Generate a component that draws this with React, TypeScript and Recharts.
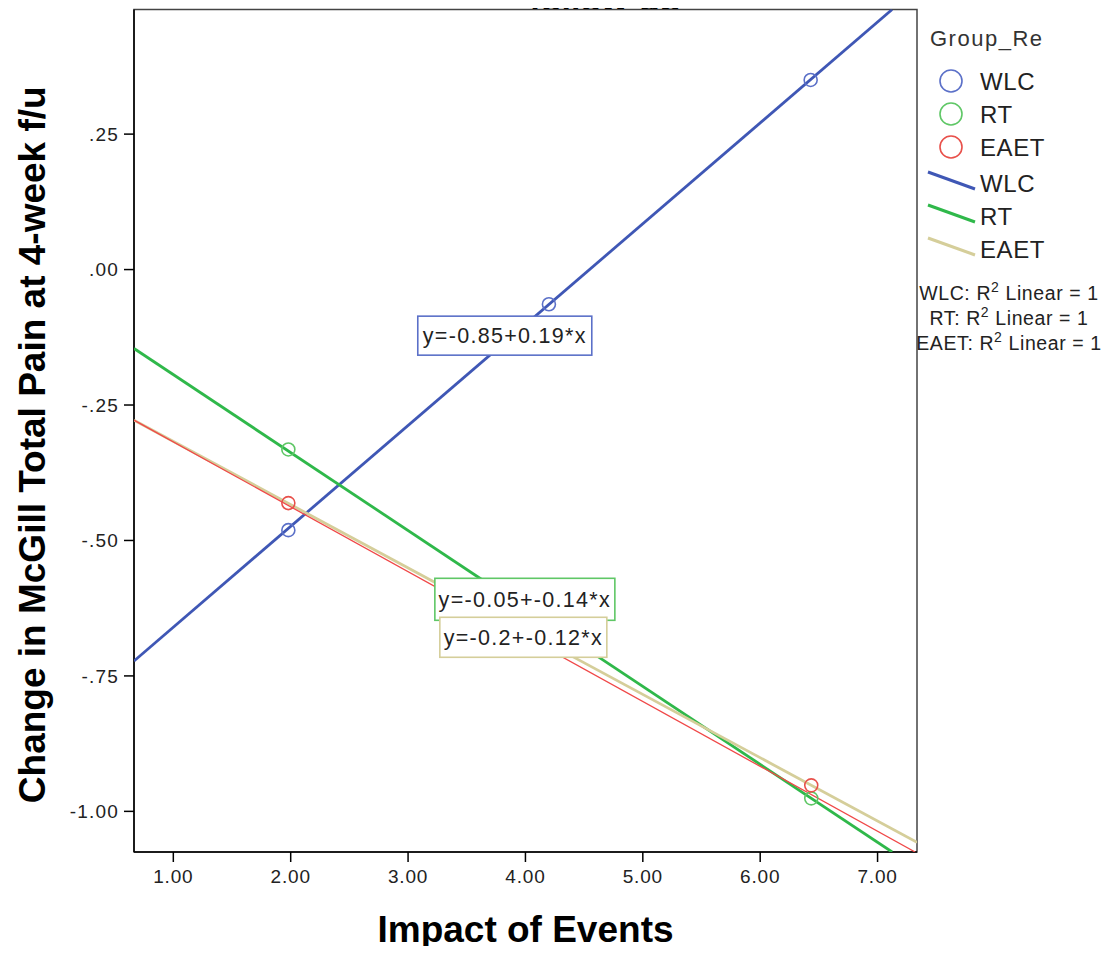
import {
  ScatterChart,
  Scatter,
  XAxis,
  YAxis,
  ReferenceArea,
  ReferenceDot,
} from 'recharts'

const FONT = '"Liberation Sans", Arial, sans-serif'

// observed points per group
const wlcPoints = [
  { x: 1.98, y: -0.481 },
  { x: 4.2, y: -0.064 },
  { x: 6.43, y: 0.35 },
]
const rtPoints = [
  { x: 1.98, y: -0.332 },
  { x: 6.435, y: -0.976 },
]
const eaetPoints = [
  { x: 1.98, y: -0.431 },
  { x: 6.435, y: -0.952 },
]

// fit lines, end points read where they leave the plot frame
const wlcFit = [
  { x: 0.665, y: -0.7225 },
  { x: 7.124, y: 0.48 },
]
const rtFit = [
  { x: 0.665, y: -0.1457 },
  { x: 7.124, y: -1.075 },
]
const eaetFit = [
  { x: 0.665, y: -0.278 },
  { x: 7.336, y: -1.057 },
]
const eaetThin = [
  { x: 0.665, y: -0.278 },
  { x: 7.32, y: -1.075 },
]

const xTicks = [1, 2, 3, 4, 5, 6, 7]
const yTicks = [-1, -0.75, -0.5, -0.25, 0, 0.25]
const xDomain = [0.665, 7.336]
const yDomain = [-1.075, 0.48]

const groups = ['WLC', 'RT', 'EAET']
const equations = ['y=-0.85+0.19*x', 'y=-0.05+-0.14*x', 'y=-0.2+-0.12*x']

const C = {
  blueLine: '#3f57b5',
  blueMark: '#5b70c8',
  greenLine: '#2fb84a',
  greenMark: '#5fc766',
  redMark: '#e8504a',
  beige: '#d5ce9a',
  redLine: '#f04848',
}

const fmtY = (v: number) => {
  if (Math.abs(v) < 1) return (v < 0 ? '-' : '') + Math.abs(v).toFixed(2).slice(1)
  return v.toFixed(2)
}

const ring = (color: string) => (p: any) => (
  <circle cx={p.cx} cy={p.cy} r={6.5} fill="none" stroke={color} strokeWidth={1.6} />
)
const noDot = () => <g />

const eqBox = (text: string, color: string, w: number, h: number) => (p: any) => (
  <g>
    <rect x={p.cx - w / 2} y={p.cy - h / 2} width={w} height={h} fill="#fff" stroke={color} strokeWidth={1.6} />
    <text
      x={p.cx}
      y={p.cy + 7.5}
      textAnchor="middle"
      fontFamily={FONT}
      fontSize={21.5}
      letterSpacing={1.3}
      fill="#222"
    >
      {text}
    </text>
  </g>
)

function LegendBox() {
  const circleColors = [C.blueMark, C.greenMark, C.redMark]
  const lineColors = [C.blueLine, C.greenLine, C.beige]
  const circleY = [81, 114, 147]
  const lineY = [183, 216, 249]
  return (
    <svg
      width={1109}
      height={954}
      style={{ position: 'absolute', left: 0, top: 0, pointerEvents: 'none' }}
    >
      <text x={930} y={46} fontFamily={FONT} fontSize={22} letterSpacing={1.5} fill="#333">
        Group_Re
      </text>
      {groups.map((g, i) => (
        <g key={'c' + g}>
          <circle cx={951} cy={circleY[i]} r={11} fill="none" stroke={circleColors[i]} strokeWidth={1.6} />
          <text x={980} y={circleY[i] + 9} fontFamily={FONT} fontSize={24} letterSpacing={0.6} fill="#222">
            {g}
          </text>
        </g>
      ))}
      {groups.map((g, i) => (
        <g key={'l' + g}>
          <line x1={928} y1={lineY[i] - 11} x2={975} y2={lineY[i] + 6} stroke={lineColors[i]} strokeWidth={3} />
          <text x={980} y={lineY[i] + 9} fontFamily={FONT} fontSize={24} letterSpacing={0.6} fill="#222">
            {g}
          </text>
        </g>
      ))}
      {groups.map((g, i) => (
        <text
          key={'r' + g}
          x={1009}
          y={300 + i * 25}
          textAnchor="middle"
          fontFamily={FONT}
          fontSize={19.5}
          letterSpacing={0.6}
          fill="#222"
        >
          {g}: R<tspan fontSize={14} dy={-8}>2</tspan>
          <tspan dy={8}> Linear = 1</tspan>
        </text>
      ))}
    </svg>
  )
}

export default function App() {
  return (
    <div style={{ position: 'relative', margin: -8, width: 1109, height: 954, overflow: 'hidden', background: '#fff' }}>
      <ScatterChart width={1109} height={954} margin={{ top: 9.5, right: 192, bottom: 0, left: 0 }}>
        <ReferenceArea
          x1={xDomain[0]}
          x2={xDomain[1]}
          y1={yDomain[0]}
          y2={yDomain[1]}
          fill="none"
          stroke="#444"
          strokeWidth={1.5}
          ifOverflow="visible"
        />
        <XAxis
          type="number"
          dataKey="x"
          domain={xDomain}
          allowDataOverflow
          ticks={xTicks}
          tickFormatter={(v: number) => v.toFixed(2)}
          height={102}
          tickSize={10}
          tickMargin={8}
          stroke="#000"
          strokeWidth={1.5}
          tick={{ fill: '#222', fontSize: 19, fontFamily: FONT, letterSpacing: 0.8 }}
          label={({ viewBox }: any) => (
            <text
              x={viewBox.x + viewBox.width / 2}
              y={viewBox.y + 90}
              textAnchor="middle"
              fontFamily={FONT}
              fontWeight="bold"
              fontSize={37}
              fill="#000"
            >
              Impact of Events
            </text>
          )}
        />
        <YAxis
          type="number"
          dataKey="y"
          domain={yDomain}
          allowDataOverflow
          ticks={yTicks}
          tickFormatter={fmtY}
          width={134}
          tickSize={10}
          tickMargin={5}
          stroke="#000"
          strokeWidth={1.5}
          tick={{ fill: '#222', fontSize: 19, fontFamily: FONT, letterSpacing: 1.2 }}
          label={({ viewBox }: any) => {
            const cx = 32
            const cy = viewBox.y + viewBox.height / 2 + 14
            return (
              <text
                x={cx}
                y={cy}
                transform={`rotate(-90 ${cx} ${cy})`}
                textAnchor="middle"
                dominantBaseline="central"
                fontFamily={FONT}
                fontWeight="bold"
                fontSize={37}
                fill="#000"
              >
                Change in McGill Total Pain at 4-week f/u
              </text>
            )
          }}
        />
        <Scatter data={wlcFit} line={{ stroke: C.blueLine, strokeWidth: 2.8 }} shape={noDot} isAnimationActive={false} />
        <Scatter data={rtFit} line={{ stroke: C.greenLine, strokeWidth: 2.8 }} shape={noDot} isAnimationActive={false} />
        <Scatter data={eaetFit} line={{ stroke: C.beige, strokeWidth: 2.8 }} shape={noDot} isAnimationActive={false} />
        <Scatter data={eaetThin} line={{ stroke: C.redLine, strokeWidth: 1.3 }} shape={noDot} isAnimationActive={false} />
        <Scatter data={wlcPoints} shape={ring(C.blueMark)} isAnimationActive={false} />
        <Scatter data={rtPoints} shape={ring(C.greenMark)} isAnimationActive={false} />
        <Scatter data={eaetPoints} shape={ring(C.redMark)} isAnimationActive={false} />
        <ReferenceDot x={3.824} y={-0.122} r={0} ifOverflow="visible" shape={eqBox(equations[0], C.blueMark, 174, 39)} />
        <ReferenceDot x={3.995} y={-0.6086} r={0} ifOverflow="visible" shape={eqBox(equations[1], C.greenMark, 180, 42)} />
        <ReferenceDot x={3.982} y={-0.6787} r={0} ifOverflow="visible" shape={eqBox(equations[2], C.beige, 167, 40)} />
      </ScatterChart>
      <LegendBox />
      {/* chart title, cut off at the top edge as in the source image */}
      <div style={{ position: 'absolute', left: 0, top: 0, width: 1109, height: 9, overflow: 'hidden' }}>
        <div
          style={{
            position: 'absolute',
            left: 0,
            top: -17,
            width: 1210,
            textAlign: 'center',
            fontFamily: FONT,
            fontWeight: 'bold',
            fontSize: 34,
            lineHeight: '34px',
            color: '#000',
            whiteSpace: 'nowrap',
          }}
        >
          follow-up
        </div>
      </div>
    </div>
  )
}
